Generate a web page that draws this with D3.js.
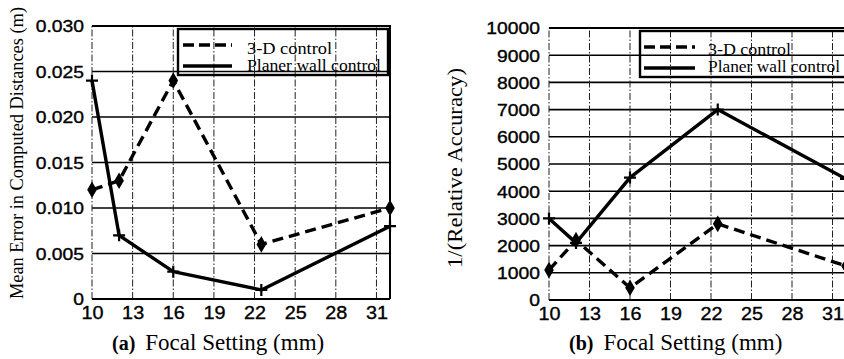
<!DOCTYPE html>
<html>
<head>
<meta charset="utf-8">
<script src="https://cdn.jsdelivr.net/npm/d3@7"></script>
<style>
  html, body { margin: 0; padding: 0; background: #fff; }
  svg { display: block; }
  .tick-label { font-family: "Liberation Sans", Arial, sans-serif; fill: #000; stroke: #000; stroke-width: 0.35px; }
  .serif { font-family: "Liberation Serif", "Times New Roman", serif; fill: #000; }
</style>
</head>
<body>
<svg id="chart" width="844" height="359"></svg>
<script>
// Focal settings at which the camera was calibrated (mm)
const focalSettings = [10, 12, 16, 22.5, 32];

// Panel (a): mean error in computed distances (m)
const errorBundle = [0.012, 0.013, 0.024, 0.006, 0.010];
const errorPlaner = [0.024, 0.007, 0.003, 0.001, 0.008];

// Panel (b): 1 / relative accuracy
const accuracyBundle = [1100, 2200, 450, 2800, 1250];
const accuracyPlaner = [3000, 2100, 4500, 7000, 4450];

// Axis ticks
const focalTicks = [10, 13, 16, 19, 22, 25, 28, 31];
const errorTicks = [0, 0.005, 0.010, 0.015, 0.020, 0.025, 0.030];
const errorTickLabels = ["0", "0.005", "0.010", "0.015", "0.020", "0.025", "0.030"];
const accuracyTicks = [0, 1000, 2000, 3000, 4000, 5000, 6000, 7000, 8000, 9000, 10000];
const accuracyTickLabels = accuracyTicks.map(String);

const seriesNames = ["3-D control", "Planer wall control"];

const svg = d3.select("#chart");

function stretch(sel, factor) {
  sel.each(function () {
    const w = this.getComputedTextLength();
    d3.select(this).attr("textLength", w * factor).attr("lengthAdjust", "spacingAndGlyphs");
  });
}

function drawPanel(opt) {
  const x = d3.scaleLinear().domain([10, 32]).range(opt.xRange);
  const y = d3.scaleLinear().domain(opt.yDomain).range(opt.yRange);
  const g = svg.append("g");
  const [x0, x1] = opt.xRange;
  const [y0, y1] = opt.yRange;

  // horizontal grid lines (solid)
  g.append("g").selectAll("line")
    .data(opt.yTicks.slice(1))
    .join("line")
    .attr("x1", x0).attr("x2", x1)
    .attr("y1", d => y(d)).attr("y2", d => y(d))
    .attr("stroke", "#000").attr("stroke-width", 1.6);

  // vertical grid lines (dash-dot)
  g.append("g").selectAll("line")
    .data(focalTicks)
    .join("line")
    .attr("x1", d => x(d)).attr("x2", d => x(d))
    .attr("y1", y0).attr("y2", y1)
    .attr("stroke", "#222").attr("stroke-width", 1)
    .attr("stroke-dasharray", "7,2,1.5,2");

  // frame: solid bottom, top and right
  g.append("path")
    .attr("d", `M${x0},${y1}H${x1}V${y0}`)
    .attr("fill", "none").attr("stroke", "#000").attr("stroke-width", 2);
  g.append("line")
    .attr("x1", x0).attr("x2", x1).attr("y1", y0).attr("y2", y0)
    .attr("stroke", "#000").attr("stroke-width", 2.2);

  // x axis labels
  const xAxis = d3.axisBottom(x).tickValues(focalTicks).tickSize(0).tickPadding(7);
  const xa = g.append("g").attr("transform", `translate(0,${y0})`).call(xAxis);
  xa.select(".domain").remove();
  xa.selectAll("text").attr("class", "tick-label").style("font-size", "18px")
    .attr("font-family", null).attr("fill", "#000");
  stretch(xa.selectAll("text"), 1.1);

  // y axis labels
  const yAxis = d3.axisLeft(y).tickValues(opt.yTicks)
    .tickFormat((d, i) => opt.yTickLabels[i]).tickSize(0).tickPadding(opt.yPad);
  const ya = g.append("g").attr("transform", `translate(${x0},0)`).call(yAxis);
  ya.select(".domain").remove();
  ya.selectAll("text").attr("class", "tick-label").style("font-size", "16.5px")
    .attr("font-family", null).attr("fill", "#000").attr("dy", "0.36em");
  stretch(ya.selectAll("text"), 1.17);

  // data lines
  const line = d3.line().x(d => x(d[0])).y(d => y(d[1]));
  const bundle = focalSettings.map((f, i) => [f, opt.bundle[i]]);
  const planer = focalSettings.map((f, i) => [f, opt.planer[i]]);

  g.append("path").datum(planer).attr("d", line)
    .attr("fill", "none").attr("stroke", "#000").attr("stroke-width", 3.4)
    .attr("stroke-linejoin", "round");
  g.append("path").datum(bundle).attr("d", line)
    .attr("fill", "none").attr("stroke", "#000").attr("stroke-width", 3.4)
    .attr("stroke-dasharray", "11,6");

  // markers: plus for planer wall, diamond for 3-D
  g.append("g").selectAll("path").data(planer).join("path")
    .attr("d", "M-6,0H6M0,-6V6")
    .attr("transform", d => `translate(${x(d[0])},${y(d[1])})`)
    .attr("fill", "none").attr("stroke", "#000").attr("stroke-width", 2.2);
  g.append("g").selectAll("path").data(bundle).join("path")
    .attr("d", d3.symbol(d3.symbolDiamond, 80))
    .attr("transform", d => `translate(${x(d[0])},${y(d[1])})`)
    .attr("fill", "#000");

  // legend
  const L = opt.legend;
  const lg = g.append("g");
  lg.append("rect")
    .attr("x", L.x).attr("y", L.y).attr("width", L.w).attr("height", L.h)
    .attr("fill", "none").attr("stroke", "#000").attr("stroke-width", 2.4);
  lg.append("line")
    .attr("x1", L.lineX0).attr("x2", L.lineX1).attr("y1", L.row1).attr("y2", L.row1)
    .attr("stroke", "#000").attr("stroke-width", 3.4).attr("stroke-dasharray", "11,5");
  lg.append("line")
    .attr("x1", L.lineX0).attr("x2", L.lineX1).attr("y1", L.row2).attr("y2", L.row2)
    .attr("stroke", "#000").attr("stroke-width", 3.4);
  lg.append("text").attr("class", "serif")
    .attr("x", L.textX).attr("y", L.base1)
    .style("font-size", "16px").attr("textLength", L.len1).attr("lengthAdjust", "spacingAndGlyphs")
    .text(seriesNames[0]);
  lg.append("text").attr("class", "serif")
    .attr("x", L.textX).attr("y", L.base2)
    .style("font-size", "16px").attr("textLength", L.len2).attr("lengthAdjust", "spacingAndGlyphs")
    .text(seriesNames[1]);

  // y axis title
  svg.append("text").attr("class", "serif")
    .attr("transform", `translate(${opt.yTitle.x},${opt.yTitle.y}) rotate(-90)`)
    .attr("text-anchor", "middle")
    .style("font-size", opt.yTitle.size + "px")
    .attr("textLength", opt.yTitle.len).attr("lengthAdjust", "spacingAndGlyphs")
    .text(opt.yTitle.text);

  // x axis title
  const xt = svg.append("text").attr("class", "serif")
    .attr("x", opt.xTitle.x).attr("y", 350);
  xt.append("tspan").style("font-weight", "bold").style("font-size", "20px").text(opt.xTitle.tag);
  xt.append("tspan").attr("dx", 10).style("font-size", "23px").text("Focal Setting (mm)");
}

drawPanel({
  xRange: [92, 390], yRange: [299, 26],
  yDomain: [0, 0.030], yTicks: errorTicks, yTickLabels: errorTickLabels, yPad: 8,
  bundle: errorBundle, planer: errorPlaner,
  legend: { x: 178, y: 29, w: 210, h: 46, lineX0: 183, lineX1: 232, row1: 45, row2: 66,
            textX: 247, base1: 54, base2: 71, len1: 85, len2: 134 },
  yTitle: { x: 23, y: 153, size: 18, len: 292, text: "Mean Error in Computed Distances (m)" },
  xTitle: { x: 112, tag: "(a)" }
});

drawPanel({
  xRange: [549, 846], yRange: [300, 28],
  yDomain: [0, 10000], yTicks: accuracyTicks, yTickLabels: accuracyTickLabels, yPad: 9,
  bundle: accuracyBundle, planer: accuracyPlaner,
  legend: { x: 640, y: 31, w: 210, h: 46, lineX0: 644, lineX1: 695, row1: 47, row2: 68,
            textX: 708, base1: 55, base2: 72, len1: 83, len2: 132 },
  yTitle: { x: 462, y: 168, size: 20, len: 200, text: "1/(Relative Accuracy)" },
  xTitle: { x: 569, tag: "(b)" }
});
</script>
</body>
</html>
